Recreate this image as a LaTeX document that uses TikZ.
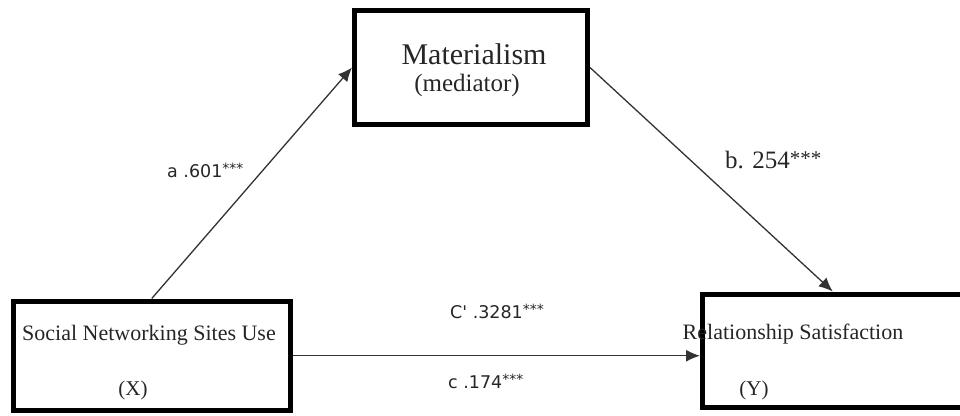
\documentclass[tikz,border=0pt]{standalone}
\usepackage{fontspec}
\setmainfont{Liberation Serif}
\newfontfamily\coeffont{DejaVu Sans}
\newcommand\sigstars[2]{\raisebox{#2}{\fontsize{#1}{#1}\selectfont***}}
\usetikzlibrary{arrows.meta}

\begin{document}
\begin{tikzpicture}[x=1pt,y=-1pt,
		box/.style={draw=black,line width=5pt,inner sep=0pt},
		effect/.style={draw=black!80,line width=1.3pt,-{Latex[length=14pt,width=12pt]}},
		txt/.style={inner sep=0pt,anchor=base,text=black!85},
		coef/.style={inner sep=0pt,anchor=base west,text=black!85,font=\coeffont\fontsize{17.5}{20}\selectfont}]
		\useasboundingbox (0,0) rectangle (960,415);
		% the three boxes
		\node[box,minimum width=233pt,minimum height=114pt] (mat) at (471,67.5) {};
		\node[box,minimum width=277.5pt,minimum height=109.5pt] (sns) at (151.75,355.75) {};
		\node[box,minimum width=272.5pt,minimum height=113.5pt] (rs) at (838.75,350.75) {};
		% texts in the boxes
		\node[txt,font=\fontsize{30}{34}\selectfont] (matname) at (474,64) {Materialism};
		\node[txt,font=\fontsize{25}{28}\selectfont] (matrole) at (467,91) {(mediator)};
		\node[txt,font=\fontsize{22}{26}\selectfont] (snsname) at (149,340) {Social Networking Sites Use};
		\node[txt,font=\fontsize{21}{24}\selectfont] (snsrole) at (133,395) {(X)};
		\node[txt,font=\fontsize{22}{26}\selectfont] (rsname) at (793,339) {Relationship Satisfaction};
		\node[txt,font=\fontsize{21}{24}\selectfont] (rsrole) at (754,395) {(Y)};
		% paths
		\draw[effect] (sns.north) -- (mat.west);
		\draw[effect] (mat.east) -- ([xshift=-6pt]rs.north);
		\draw[effect] (sns.east) -- (sns.east -| rs.west);
		% coefficients
		\node[coef] (apath) at (167,177) {a .601\sigstars{14}{4pt}};
		\node[coef,font=\fontsize{25}{28}\selectfont] (bpath) at (725,168) {b. 254\sigstars{21}{3pt}};
		\node[coef] (cdirect) at (450,318) {C' .3281\sigstars{14}{4pt}};
		\node[coef] (ctotal) at (448,388) {c .174\sigstars{14}{4pt}};
	\end{tikzpicture}
\end{document}
